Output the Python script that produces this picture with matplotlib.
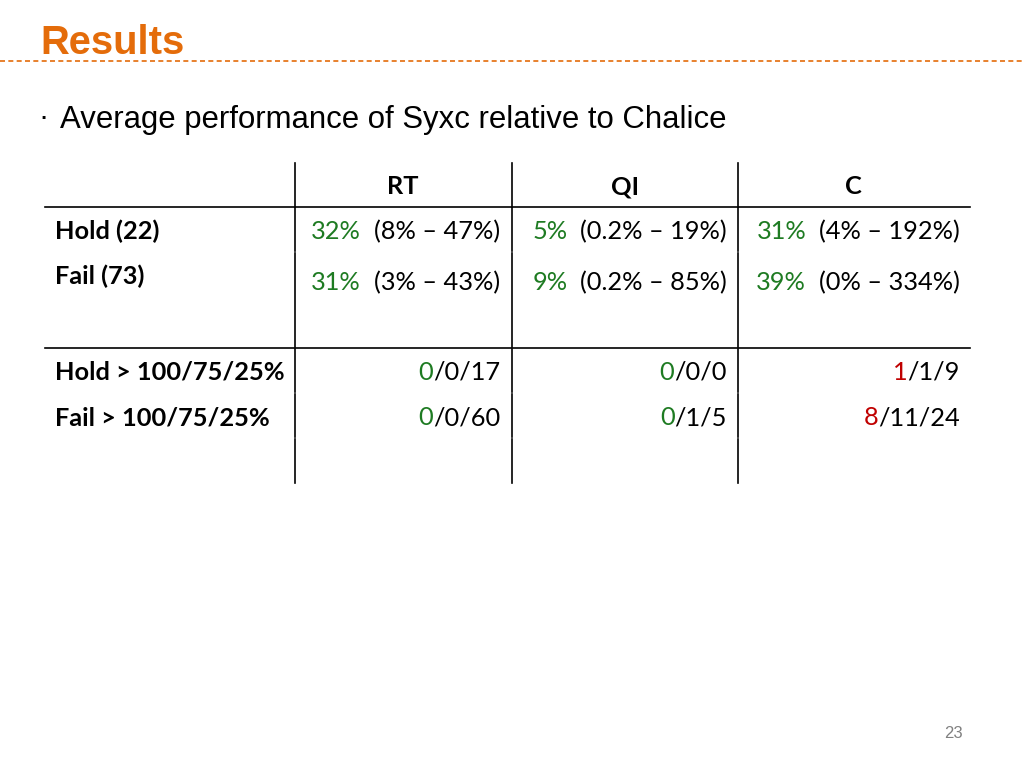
import matplotlib
matplotlib.use('Agg')
import matplotlib.pyplot as plt

# slide content
title = "Results"
bullet = "Average performance of Syxc relative to Chalice"
page_no = "23"

columns = ["RT", "QI", "C"]
avg_labels = ["Hold (22)", "Fail (73)"]
avg_values = [["32%", "5%", "31%"],
              ["31%", "9%", "39%"]]
avg_ranges = [["(8% \u2013 47%)", "(0.2% \u2013 19%)", "(4% \u2013 192%)"],
              ["(3% \u2013 43%)", "(0.2% \u2013 85%)", "(0% \u2013 334%)"]]
cnt_labels = ["Hold > 100/75/25%", "Fail > 100/75/25%"]
cnt_values = [[(0, 0, 17), (0, 0, 0), (1, 1, 9)],
              [(0, 0, 60), (0, 1, 5), (8, 11, 24)]]

ORANGE = '#E46C0A'
GREEN = '#1E7B22'
RED = '#C00000'
TFONT = 'Lato'
TSIZE = 18.3
BASE = 8  # baseline offset from row centre, px

fig = plt.figure(figsize=(10.24, 7.68), dpi=100)
ax = fig.add_axes([0, 0, 1, 1])
ax.set_xlim(0, 1024)
ax.set_ylim(768, 0)
ax.axis('off')
renderer = fig.canvas.get_renderer()

ax.text(40, 43, title, fontsize=28.8, fontweight='bold', color=ORANGE,
        family='Liberation Sans', va='center')
ax.plot([0, 1024], [61, 61], color=ORANGE, lw=1.2, ls=(0, (3, 2)))
ax.text(38, 118, "\u00b7", fontsize=22, family='Liberation Sans', va='center')
ax.text(60, 120, bullet, fontsize=22.4, family='Liberation Sans', va='center')

# table grid
col_x = [295, 512, 738]
left, right = 45, 970
for y in (207, 348):
    ax.plot([left, right], [y, y], color='black', lw=1.2)
segments = [(163, 207), (208, 251), (253, 347), (349, 392), (394, 437), (439, 483)]
for x in col_x:
    for y0, y1 in segments:
        ax.plot([x, x], [y0, y1], color='black', lw=1.2)

col_centers = [403, 625, 853]
col_rights = [500, 727, 960]
for name, cx in zip(columns, col_centers):
    ax.text(cx, 186 + BASE, name, fontsize=TSIZE, fontweight='bold', family=TFONT,
            ha='center', va='baseline')


def two_part(x, y, first, rest, first_color):
    t = ax.text(x, y + BASE, rest, fontsize=TSIZE, family=TFONT,
                ha='right', va='baseline')
    bb = t.get_window_extent(renderer)
    ax.text(x - bb.width, y + BASE, first, fontsize=TSIZE, family=TFONT,
            color=first_color, ha='right', va='baseline')


avg_label_y = [231, 276]
avg_val_y = [231, 282]
for i, lab in enumerate(avg_labels):
    ax.text(55, avg_label_y[i] + BASE, lab, fontsize=TSIZE, fontweight='bold',
            family=TFONT, va='baseline')
    for j in range(len(columns)):
        two_part(col_rights[j], avg_val_y[i], avg_values[i][j],
                 "  " + avg_ranges[i][j], GREEN)

cnt_y = [372, 417]
for i, lab in enumerate(cnt_labels):
    ax.text(55, cnt_y[i] + BASE, lab, fontsize=TSIZE, fontweight='bold',
            family=TFONT, va='baseline')
    for j in range(len(columns)):
        a, b, c = cnt_values[i][j]
        two_part(col_rights[j], cnt_y[i], str(a), f"/{b}/{c}",
                 GREEN if a == 0 else RED)

ax.text(953, 734, page_no, fontsize=12, color='#808080',
        family='Liberation Sans', ha='center', va='center')

fig.savefig('out.png', dpi=100)
